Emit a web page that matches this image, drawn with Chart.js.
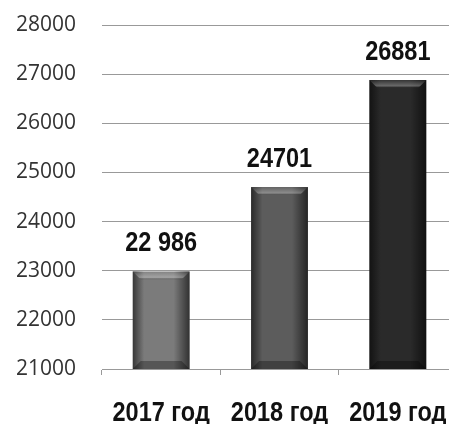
<!DOCTYPE html>
<html lang="ru">
<head>
<meta charset="UTF-8">
<title>2017-2019</title>
<script src="https://cdn.jsdelivr.net/npm/chart.js"></script>
<style>
  body {
    margin: 0;
    padding: 0;
    background: #fff;
    overflow: hidden;
  }
  #wrap {
    width: 460px;
    height: 424px;
  }
</style>
</head>
<body>
<div id="wrap"><canvas id="chart" width="460" height="424"></canvas></div>
<script>
  const years = ['2017 год', '2018 год', '2019 год'];
  const totals = [22986, 24701, 26881];
  const totalLabels = ['22 986', '24701', '26881'];
  const yTicks = [21000, 22000, 23000, 24000, 25000, 26000, 27000, 28000];

  // body shade of every bar
  const barMid = ['#7b7b7b', '#5c5c5c', '#2a2a2a'];

  // bold text squeezed sideways, like a narrow face
  const valueFont = 'bold 28px "Liberation Sans", Arial, sans-serif';
  const yearFont = 'bold 28px "Liberation Sans", Arial, sans-serif';
  const squeeze = 0.84;

  function narrowText(c, text, x, y) {
    c.save();
    c.translate(x, y);
    c.scale(squeeze, 1);
    c.fillText(text, 0, 0);
    c.restore();
  }

  // dark sides, chamfered top and bottom on each bar, values and year labels
  const bevelPlugin = {
    id: 'bevel',
    afterDatasetsDraw(chart) {
      const c = chart.ctx;
      const area = chart.chartArea;
      const meta = chart.getDatasetMeta(0);
      meta.data.forEach((bar, i) => {
        const l = bar.x - bar.width / 2;
        const r = bar.x + bar.width / 2;
        const t = bar.y;
        const b = Math.min(bar.base, area.bottom);
        const d = 8;
        c.save();
        // sides
        let g = c.createLinearGradient(l, 0, r, 0);
        g.addColorStop(0, 'rgba(0,0,0,0.55)');
        g.addColorStop(0.2, 'rgba(0,0,0,0)');
        g.addColorStop(0.72, 'rgba(0,0,0,0)');
        g.addColorStop(1, 'rgba(0,0,0,0.6)');
        c.fillStyle = g;
        c.fillRect(l, t, r - l, b - t);
        // top bevel
        g = c.createLinearGradient(0, t, 0, t + d);
        g.addColorStop(0, 'rgba(255,255,255,0.05)');
        g.addColorStop(0.75, 'rgba(255,255,255,0.30)');
        g.addColorStop(1, 'rgba(0,0,0,0.10)');
        c.fillStyle = g;
        c.beginPath();
        c.moveTo(l, t);
        c.lineTo(r, t);
        c.lineTo(r - d, t + d);
        c.lineTo(l + d, t + d);
        c.closePath();
        c.fill();
        // bottom bevel
        c.fillStyle = 'rgba(0,0,0,0.30)';
        c.beginPath();
        c.moveTo(l, b);
        c.lineTo(r, b);
        c.lineTo(r - d, b - d);
        c.lineTo(l + d, b - d);
        c.closePath();
        c.fill();
        // value over the bar
        c.fillStyle = '#111';
        c.font = valueFont;
        c.textAlign = 'center';
        c.textBaseline = 'bottom';
        narrowText(c, totalLabels[i], bar.x, t - 14);
        c.restore();
      });

      // year labels under the axis
      const xs = chart.scales.x;
      c.save();
      c.fillStyle = '#111';
      c.font = yearFont;
      c.textAlign = 'center';
      c.textBaseline = 'middle';
      years.forEach((label, i) => {
        narrowText(c, label, xs.getPixelForTick(i), area.bottom + 44);
      });
      c.restore();
    }
  };

  new Chart(document.getElementById('chart'), {
    type: 'bar',
    data: {
      labels: years,
      datasets: [{
        data: totals,
        backgroundColor: barMid,
        borderWidth: 0,
        categoryPercentage: 1,
        barPercentage: 0.48
      }]
    },
    options: {
      responsive: false,
      animation: false,
      layout: { padding: { top: 25, right: 3, left: 0, bottom: 0 } },
      plugins: {
        legend: { display: false },
        tooltip: { enabled: false }
      },
      scales: {
        x: {
          afterFit(scale) {
            scale.height = 55;
            scale.paddingLeft = 0;
            scale.paddingRight = 0;
          },
          grid: {
            offset: true,
            drawOnChartArea: false,
            drawTicks: true,
            tickLength: 6,
            color: '#999'
          },
          border: { display: true, color: '#999', width: 1 },
          ticks: { display: false }
        },
        y: {
          min: 21000,
          max: 28000,
          afterFit(scale) {
            scale.width = 102;
            scale.paddingTop = 0;
            scale.paddingBottom = 0;
          },
          afterBuildTicks(scale) { scale.ticks = yTicks.map(v => ({ value: v })); },
          grid: { color: '#999', drawTicks: false },
          border: { display: false },
          ticks: {
            padding: 26,
            color: '#333',
            font: { family: '"Open Sans", sans-serif', size: 21 },
            callback: v => String(v)
          }
        }
      }
    },
    plugins: [bevelPlugin]
  });
</script>
</body>
</html>
